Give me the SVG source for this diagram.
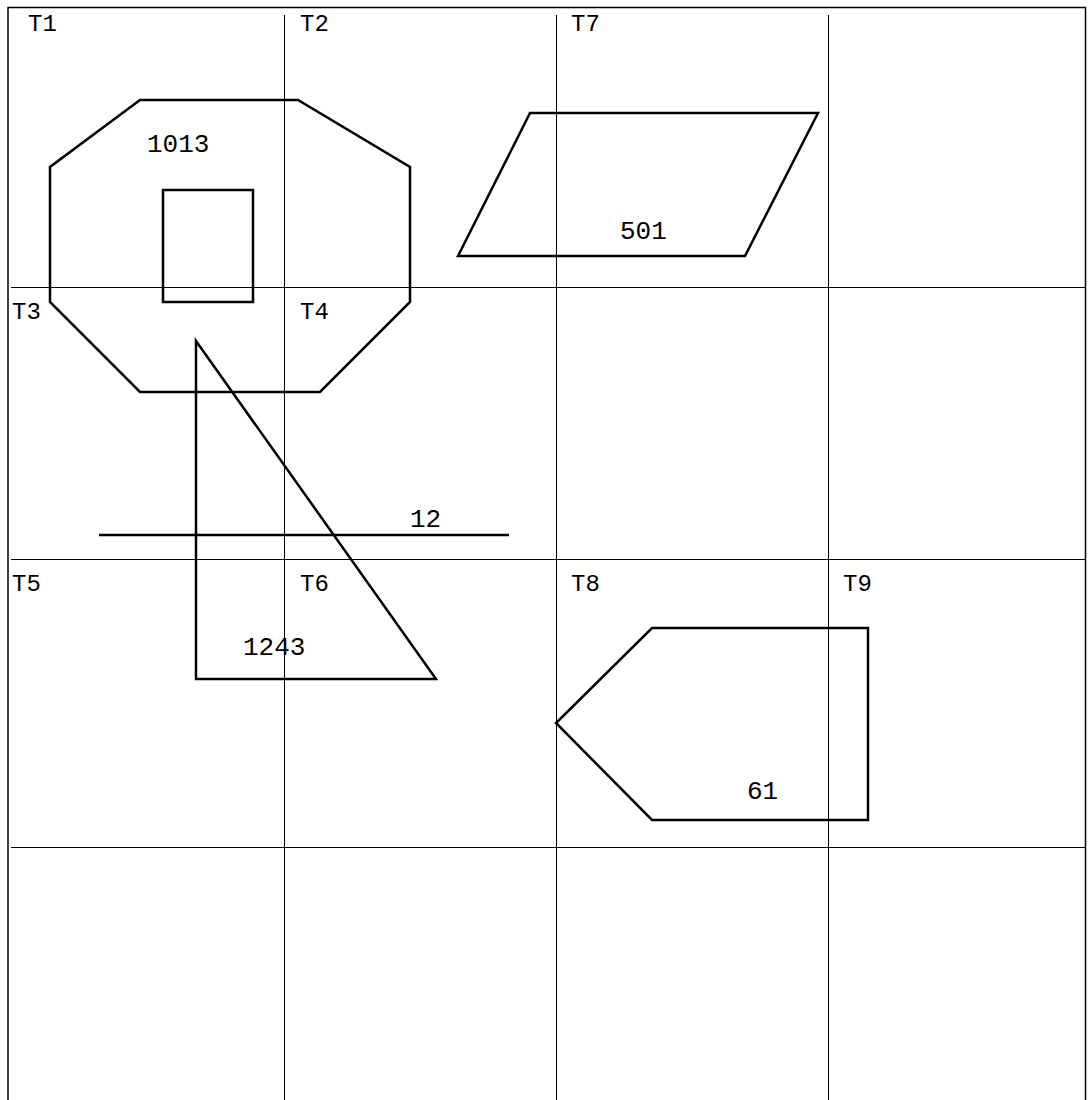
<svg xmlns="http://www.w3.org/2000/svg" width="1091" height="1100" viewBox="0 0 1091 1100">
<style>
.grid{stroke:#000;stroke-width:1;fill:none}
.border{stroke:#000;stroke-width:1.5;fill:none}
.shape{stroke:#000;stroke-width:2.5;fill:none;stroke-linejoin:miter}
.tl{font-family:"Liberation Mono",monospace;font-size:24px;fill:#000}
.num{font-family:"Liberation Mono",monospace;font-size:26px;fill:#000}
</style>
<rect width="1091" height="1100" fill="#fff"/>
<g id="grid">
<rect class="border" x="8" y="7.5" width="1077.5" height="1100"/>
<line class="grid" x1="284.5" y1="15" x2="284.5" y2="1100"/>
<line class="grid" x1="556.5" y1="15" x2="556.5" y2="1100"/>
<line class="grid" x1="828.5" y1="15" x2="828.5" y2="1100"/>
<line class="grid" x1="11" y1="287.5" x2="1085" y2="287.5"/>
<line class="grid" x1="11" y1="559.5" x2="1085" y2="559.5"/>
<line class="grid" x1="11" y1="847.5" x2="1085" y2="847.5"/>
</g>
<g id="tile-labels">
<text class="tl" x="28" y="31">T1</text>
<text class="tl" x="300" y="31">T2</text>
<text class="tl" x="571" y="31">T7</text>
<text class="tl" x="12" y="319">T3</text>
<text class="tl" x="300" y="319">T4</text>
<text class="tl" x="12" y="591">T5</text>
<text class="tl" x="300" y="591">T6</text>
<text class="tl" x="571" y="591">T8</text>
<text class="tl" x="843" y="591">T9</text>
</g>
<g id="node-1013">
<polygon class="shape" points="140,100 298,100 410,167 410,302 320,392 140,392 50,302 50,167"/>
<rect class="shape" x="163" y="190" width="90" height="112"/>
<text class="num" x="147" y="152">1013</text>
</g>
<g id="node-501">
<polygon class="shape" points="530,113 818,113 745,256 458,256"/>
<text class="num" x="620" y="239">501</text>
</g>
<g id="node-1243">
<polygon class="shape" points="196,341 196,679 436,679"/>
<text class="num" x="243" y="655">1243</text>
</g>
<g id="node-12">
<line class="shape" x1="99" y1="535" x2="509" y2="535"/>
<text class="num" x="410" y="527">12</text>
</g>
<g id="node-61">
<polygon class="shape" points="652,628 868,628 868,820 652,820 556,723"/>
<text class="num" x="747" y="799">61</text>
</g>
<g id="connectors"></g>
</svg>
